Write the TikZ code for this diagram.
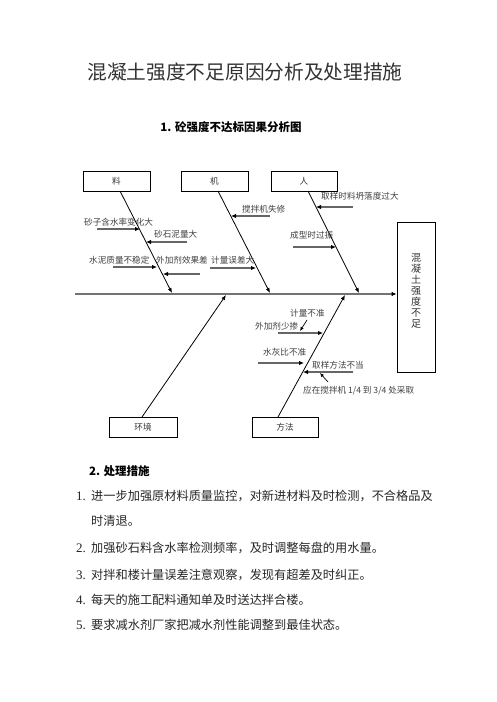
\documentclass[tikz,border=0pt]{standalone}
\usepackage{fontspec}
\setmainfont{Liberation Serif}
\newfontfamily\cjk{Noto Sans CJK SC}
\usepackage{tikz}
\usetikzlibrary{arrows.meta,positioning,calc}
\definecolor{spinegray}{rgb}{0.45,0.45,0.45}
\definecolor{branchgray}{rgb}{0.40,0.40,0.40}

\begin{document}
\begin{tikzpicture}[x=1pt, y=-1pt,
    catbox/.style={draw=black, line width=0.8pt, minimum width=67pt, minimum height=20pt, inner sep=0pt, font=\cjk\fontsize{8.6}{10}\selectfont, text=black!80},
    cause/.style={anchor=west, inner sep=0pt, font=\cjk\fontsize{8.6}{10}\selectfont, text=black!75},
    bone/.style={line width=0.8pt, -{Latex[length=5pt,width=4pt]}},
    branch/.style={line width=1.4pt, draw=branchgray, -{Latex[length=5pt,width=4.5pt,color=black]}},
    hint/.style={line width=0.7pt, -{Latex[length=4pt,width=3.5pt]}},
    spine/.style={line width=1.8pt, draw=spinegray, -{Latex[length=5pt,width=4.5pt,color=black]}},
    item/.style={anchor=west, inner sep=0pt, font=\cjk\fontsize{12.2}{14}\selectfont, text=black!85},
    num/.style={anchor=west, inner sep=0pt, font=\fontsize{13}{15}\selectfont, text=black!85}
]
    \useasboundingbox[fill=white] (0,0) rectangle (496,702);

    % Headings
    \node[inner sep=0pt, font=\cjk\fontsize{19.7}{24}\selectfont, text=black!80] (title) at (245,72) {混凝土强度不足原因分析及处理措施};
    \node[inner sep=0pt, font=\cjk\bfseries\fontsize{11.5}{14}\selectfont] (sub1) at (231,127) {1. 砼强度不达标因果分析图};

    % Category boxes
    \node[catbox] (liao) at (116.5,181) {料};
    \node[catbox] (ji) at (214.5,181) {机};
    \node[catbox, minimum width=66pt] (ren) at (304,181) {人};
    \node[catbox, minimum width=68pt] (huanjing) at (143,427) {环境};
    \node[catbox, minimum width=66pt] (fangfa) at (285,427) {方法};

    % Effect box
    \node[draw=black, line width=0.8pt, minimum width=38pt, minimum height=150pt, inner sep=0pt] (effect) at (416,297) {};
    \node[inner sep=0pt, align=center, font=\cjk\fontsize{10}{11}\selectfont, text=black!80] (effect_t) at (416,291) {混\\凝\\土\\强\\度\\不\\足};

    % Spine
    \coordinate (tail) at (75,294);
    \draw[spine] (tail) -- (effect.west |- tail);

    % Bones
    \coordinate (liao_s) at (120,191);
    \coordinate (liao_e) at (172,293);
    \coordinate (ji_s) at (218,191);
    \coordinate (ji_e) at (270,293);
    \coordinate (ren_s) at (308,191);
    \coordinate (ren_e) at (359,293);
    \coordinate (hj_s) at (142,417);
    \coordinate (hj_e) at (226,295);
    \coordinate (ff_s) at (278,417);
    \coordinate (ff_e) at (345,295);

    \draw[bone] (liao_s) -- (liao_e);
    \draw[bone] (ji_s) -- (ji_e);
    \draw[bone] (ren_s) -- (ren_e);
    \draw[bone] (hj_s) -- (hj_e);
    \draw[bone] (ff_s) -- (ff_e);

    % Causes: material
    \node[cause] (c_szhs) at (84,222) {砂子含水率变化大};
    \node[cause] (c_ssnl) at (154,234) {砂石泥量大};
    \node[cause] (c_snzl) at (89,260) {水泥质量不稳定};
    \node[cause] (c_wjjx) at (156,260) {外加剂效果差};

    % Causes: machine
    \node[cause] (c_jbjs) at (242,209) {搅拌机失修};
    \node[cause] (c_jlwc) at (211,260) {计量误差大};

    % Causes: people
    \node[cause] (c_qysl) at (321,196) {取样时料坍落度过大};
    \node[cause] (c_cxsg) at (290,235) {成型时过振};

    % Causes: method
    \node[cause] (c_jlbz) at (290,313) {计量不准};
    \node[cause] (c_wjjs) at (255,326) {外加剂少掺};
    \node[cause] (c_shbz) at (263,352) {水灰比不准};
    \node[cause] (c_qyff) at (312,365) {取样方法不当};
    \node[cause] (c_yzjb) at (303,391) {应在搅拌机 1/4 到 3/4 处采取};

    % Branch arrows
    \coordinate (a1s) at (97,229);   \coordinate (a1e) at (140,229);
    \coordinate (a2s) at (187,242);  \coordinate (a2e) at (146,242);
    \coordinate (a3s) at (113,267);  \coordinate (a3e) at (157,267);
    \coordinate (a4s) at (200,274);  \coordinate (a4e) at (163,274);
    \coordinate (a5s) at (270,216);  \coordinate (a5e) at (231,216);
    \coordinate (a6s) at (210,268);  \coordinate (a6e) at (256,268);
    \coordinate (a7s) at (353,207);  \coordinate (a7e) at (316,207);
    \coordinate (a8s) at (293,247);  \coordinate (a8e) at (336,247);
    \coordinate (a9s) at (278,333);  \coordinate (a9e) at (323,333);
    \coordinate (a10s) at (258,363); \coordinate (a10e) at (304,363);
    \coordinate (a11s) at (353,372); \coordinate (a11e) at (303,372);

    \foreach \a in {a1, a2, a3, a4, a5, a6, a7, a8, a9, a10, a11} {
        \draw[branch] (\a s) -- (\a e);
    }

    % Small pointers
    \coordinate (p1s) at (307,320); \coordinate (p1e) at (300,331);
    \coordinate (p2s) at (328,382); \coordinate (p2e) at (320,373);
    \draw[hint] (p1s) -- (p1e);
    \draw[hint] (p2s) -- (p2e);

    % Measures
    \node[anchor=west, inner sep=0pt, font=\cjk\bfseries\fontsize{11.5}{14}\selectfont] (sub2) at (89,471) {2. 处理措施};

    \node[num] (n1) at (76,496) {1.};
    \node[item] (t1) at (91,496) {进一步加强原材料质量监控，对新进材料及时检测，不合格品及};
    \node[item] (t1b) at (91,521) {时清退。};
    \node[num] (n2) at (76,548) {2.};
    \node[item] (t2) at (91,548) {加强砂石料含水率检测频率，及时调整每盘的用水量。};
    \node[num] (n3) at (76,575) {3.};
    \node[item] (t3) at (91,575) {对拌和楼计量误差注意观察，发现有超差及时纠正。};
    \node[num] (n4) at (76,600) {4.};
    \node[item] (t4) at (91,600) {每天的施工配料通知单及时送达拌合楼。};
    \node[num] (n5) at (76,625) {5.};
    \node[item] (t5) at (91,625) {要求减水剂厂家把减水剂性能调整到最佳状态。};
\end{tikzpicture}
\end{document}
